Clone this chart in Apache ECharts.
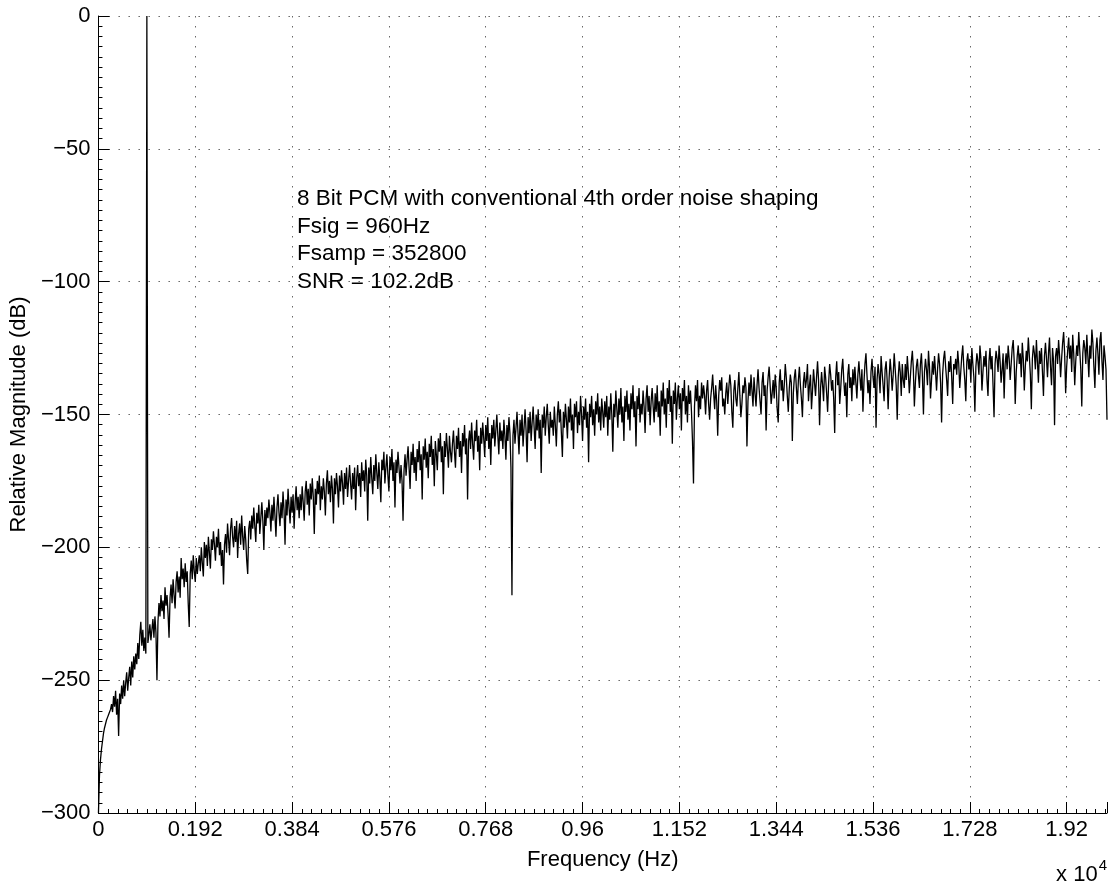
<!DOCTYPE html>
<html>
<head>
<meta charset="utf-8">
<script src="https://cdn.jsdelivr.net/npm/echarts@6/dist/echarts.min.js"></script>
<style>
html,body{margin:0;padding:0;background:#fff;}
#chart{width:1114px;height:886px;}
</style>
</head>
<body>
<div id="chart"></div>
<script>
// Spectrum bin spacing (Hz); magnitude of each bin (dB), 0 Hz .. 20000 Hz, 50 bins per kHz
const binHz = 20;
const kHz00 = [-300,-286,-280,-276,-273,-270,-268,-266.5,-265,-264,-263,-262,-261,-259,-262,-256,-260,-254,-263,-257,-271,-255,-259,-252,-257,-250,-256,-251,-247,-254,-249,-245,-252,-243,-249,-241,-246,-240,-244,-236,-242,-233,-228,-237,-231,-239,-234,-240,0,-236];
const kHz01 = [-233,-229,-235,-231,-227,-234,-226,-232,-250,-228,-221,-226,-218,-224,-220,-227,-215,-222,-218,-225,-234,-219,-214,-221,-212,-218,-223,-213,-209,-217,-211,-219,-204,-212,-208,-215,-206,-213,-209,-221,-230,-210,-205,-212,-203,-209,-213,-204,-210,-206];
const kHz02 = [-203,-209,-200,-206,-211,-198,-204,-199,-207,-196,-202,-208,-197,-201,-194,-199,-205,-196,-200,-193,-203,-198,-207,-201,-214,-199,-195,-202,-191,-197,-203,-193,-189,-196,-200,-192,-198,-190,-204,-195,-191,-199,-188,-196,-201,-192,-197,-205,-210,-193];
const kHz03 = [-190,-197,-188,-193,-185,-192,-198,-187,-191,-184,-195,-189,-183,-190,-201,-186,-192,-185,-189,-182,-187,-194,-184,-190,-181,-188,-196,-185,-180,-187,-192,-183,-189,-179,-186,-199,-182,-188,-178,-185,-191,-181,-187,-180,-193,-183,-177,-186,-181,-189];
const kHz04 = [-180,-186,-177,-183,-190,-179,-175,-184,-178,-188,-176,-182,-174,-181,-195,-178,-184,-175,-180,-173,-186,-177,-182,-174,-179,-188,-176,-171,-180,-175,-183,-173,-178,-191,-174,-180,-172,-177,-185,-173,-179,-171,-176,-184,-172,-178,-170,-181,-175,-169];
const kHz05 = [-176,-182,-172,-178,-170,-186,-174,-169,-177,-172,-181,-168,-175,-171,-179,-167,-173,-190,-170,-176,-166,-174,-180,-169,-175,-165,-172,-178,-168,-174,-183,-167,-171,-164,-176,-170,-165,-173,-179,-166,-171,-163,-175,-168,-185,-167,-172,-164,-170,-176];
const kHz06 = [-169,-175,-190,-171,-165,-173,-167,-162,-170,-178,-164,-169,-161,-172,-166,-175,-163,-168,-160,-171,-165,-182,-162,-167,-159,-170,-164,-174,-161,-166,-158,-169,-163,-177,-160,-165,-171,-159,-164,-157,-168,-162,-180,-160,-166,-157,-163,-170,-158,-164];
const kHz07 = [-168,-161,-156,-164,-170,-158,-163,-155,-166,-160,-172,-157,-162,-154,-165,-159,-182,-160,-156,-163,-153,-161,-167,-156,-160,-152,-164,-158,-171,-155,-161,-153,-159,-166,-154,-160,-151,-163,-157,-169,-154,-159,-152,-162,-156,-150,-158,-165,-153,-160];
const kHz08 = [-156,-163,-152,-158,-167,-154,-160,-151,-157,-170,-218,-158,-152,-161,-155,-149,-157,-165,-152,-158,-150,-162,-155,-148,-156,-168,-151,-157,-149,-160,-153,-147,-155,-163,-150,-156,-148,-159,-152,-172,-150,-155,-147,-158,-151,-146,-154,-161,-149,-155];
const kHz09 = [-152,-158,-147,-154,-162,-150,-145,-153,-148,-157,-166,-149,-155,-146,-152,-159,-147,-153,-144,-156,-150,-163,-146,-151,-145,-157,-149,-154,-143,-150,-160,-147,-152,-144,-155,-149,-168,-146,-151,-143,-154,-148,-158,-145,-150,-142,-153,-147,-156,-144];
const kHz10 = [-149,-155,-145,-151,-143,-158,-147,-152,-142,-150,-164,-146,-151,-141,-148,-155,-144,-150,-140,-153,-147,-160,-143,-149,-141,-152,-146,-156,-142,-148,-139,-151,-145,-162,-143,-148,-140,-153,-146,-150,-141,-147,-157,-144,-139,-149,-143,-154,-145,-140];
const kHz11 = [-147,-153,-142,-149,-139,-151,-145,-158,-141,-147,-138,-150,-144,-155,-140,-146,-137,-149,-143,-161,-141,-146,-138,-152,-144,-139,-148,-142,-156,-140,-145,-137,-150,-143,-153,-139,-146,-141,-149,-160,-176,-147,-139,-145,-137,-151,-143,-148,-138,-144];
const kHz12 = [-139,-143,-150,-141,-137,-146,-152,-144,-140,-135,-142,-148,-139,-145,-158,-143,-137,-141,-136,-147,-144,-150,-142,-138,-146,-140,-135,-139,-149,-155,-141,-137,-144,-147,-140,-134,-143,-151,-146,-139,-142,-136,-140,-162,-145,-138,-143,-135,-141,-147];
const kHz13 = [-136,-142,-147,-139,-133,-140,-145,-150,-138,-134,-143,-139,-156,-141,-136,-132,-139,-146,-142,-137,-144,-135,-140,-148,-153,-138,-133,-141,-137,-145,-139,-131,-136,-143,-149,-140,-135,-138,-160,-142,-136,-133,-140,-146,-137,-132,-139,-144,-151,-138];
const kHz14 = [-134,-140,-137,-131,-145,-139,-135,-148,-141,-133,-138,-143,-136,-130,-137,-154,-140,-134,-139,-145,-132,-136,-142,-149,-138,-131,-135,-141,-137,-144,-157,-136,-130,-139,-134,-146,-140,-133,-129,-137,-143,-138,-151,-135,-131,-140,-136,-145,-133,-139];
const kHz15 = [-132,-138,-144,-135,-130,-136,-141,-133,-149,-138,-131,-127,-135,-142,-137,-146,-134,-129,-136,-140,-132,-155,-137,-131,-135,-142,-128,-134,-139,-145,-133,-130,-137,-148,-136,-129,-134,-141,-135,-127,-133,-139,-152,-136,-130,-134,-143,-131,-137,-140];
const kHz16 = [-131,-137,-128,-134,-142,-136,-130,-126,-133,-147,-138,-132,-129,-135,-140,-131,-127,-136,-150,-134,-129,-133,-139,-126,-132,-144,-137,-130,-135,-128,-134,-141,-133,-127,-131,-138,-153,-135,-129,-126,-132,-137,-143,-130,-134,-128,-136,-146,-131,-133];
const kHz17 = [-129,-135,-126,-131,-140,-134,-128,-124,-132,-137,-145,-130,-127,-133,-129,-138,-125,-131,-136,-149,-132,-127,-130,-135,-124,-129,-141,-134,-128,-132,-126,-137,-143,-130,-125,-133,-128,-139,-151,-131,-126,-129,-134,-124,-130,-138,-133,-127,-144,-131];
const kHz18 = [-127,-133,-124,-129,-137,-131,-125,-122,-130,-146,-134,-128,-124,-131,-127,-136,-123,-129,-141,-132,-126,-130,-121,-128,-135,-148,-129,-124,-127,-133,-122,-130,-138,-126,-131,-125,-134,-143,-128,-123,-129,-136,-127,-121,-132,-139,-125,-130,-154,-128];
const kHz19 = [-125,-131,-122,-128,-136,-129,-123,-119,-127,-142,-132,-126,-121,-129,-124,-134,-120,-127,-139,-130,-124,-128,-119,-126,-133,-147,-127,-122,-125,-131,-120,-128,-136,-124,-129,-118,-123,-132,-140,-126,-121,-127,-135,-122,-119,-130,-137,-124,-128,-133,-152];
const magnitude = [].concat(kHz00,kHz01,kHz02,kHz03,kHz04,kHz05,kHz06,kHz07,kHz08,kHz09,kHz10,kHz11,kHz12,kHz13,kHz14,kHz15,kHz16,kHz17,kHz18,kHz19);

const xTickLabels = ['0','0.192','0.384','0.576','0.768','0.96','1.152','1.344','1.536','1.728','1.92'];
const yTickLabels = ['\u2212300','\u2212250','\u2212200','\u2212150','\u2212100','\u221250','0'];
const annotationLines = ['8 Bit PCM with conventional 4th order noise shaping','Fsig = 960Hz','Fsamp = 352800','SNR = 102.2dB'];

const FONT = '"Liberation Sans", Arial, Helvetica, sans-serif';
const points = magnitude.map((v, i) => [i * binHz, v]);

const chart = echarts.init(document.getElementById('chart'), null, {renderer: 'canvas'});
const gridStyle = {color: '#666', width: 1, type: [1.5, 8.5]};
chart.setOption({
  animation: false,
  backgroundColor: '#fff',
  grid: {left: 97, right: 7, top: 16, bottom: 73, containLabel: false},
  xAxis: {
    type: 'value', min: 0, max: 20000, interval: 1920,
    axisLine: {show: true, onZero: false, lineStyle: {color: '#000', width: 1}},
    axisTick: {show: true, inside: true, length: 11, lineStyle: {color: '#000'}},
    minorTick: {show: true, splitNumber: 10, length: 4, lineStyle: {color: '#000'}},
    splitLine: {show: true, showMinLine: false, showMaxLine: false, lineStyle: gridStyle},
    axisLabel: {
      fontSize: 22, fontFamily: FONT, color: '#000', margin: 6, showMaxLabel: false,
      formatter: function (v) {
        const i = Math.round(v / 1920);
        return (Math.abs(v - i * 1920) < 1e-6 && i < xTickLabels.length) ? xTickLabels[i] : '';
      }
    },
    name: 'Frequency (Hz)', nameLocation: 'middle', nameGap: 36,
    nameTextStyle: {fontSize: 22, fontFamily: FONT, color: '#000'}
  },
  yAxis: {
    type: 'value', min: -300, max: 0, interval: 50,
    axisLine: {show: true, onZero: false, lineStyle: {color: '#000', width: 1}},
    axisTick: {show: true, inside: true, length: 11, lineStyle: {color: '#000'}},
    minorTick: {show: true, splitNumber: 13, length: 4, lineStyle: {color: '#000'}},
    splitLine: {show: true, showMinLine: false, showMaxLine: true, lineStyle: gridStyle},
    axisLabel: {
      fontSize: 22, fontFamily: FONT, color: '#000', margin: 8,
      formatter: function (v) {
        const i = Math.round((v + 300) / 50);
        return yTickLabels[i] !== undefined ? yTickLabels[i] : '';
      }
    },
    name: 'Relative Magnitude (dB)', nameLocation: 'middle', nameGap: 64,
    nameTextStyle: {fontSize: 22, fontFamily: FONT, color: '#000'}
  },
  series: [{
    type: 'line', data: points, showSymbol: false, symbol: 'none',
    lineStyle: {color: '#000', width: 1.3}, sampling: null, clip: true
  }],
  graphic: [
    {
      type: 'text', left: 297, top: 185,
      style: {text: annotationLines.join('\n'), font: '22.5px ' + FONT, fill: '#000', lineHeight: 27.7}
    },
    {
      type: 'text', right: 7, top: 858,
      style: {
        text: '{b|x 10}{s|4}', fill: '#000',
        rich: {
          b: {fontSize: 22, fontFamily: FONT, verticalAlign: 'bottom', lineHeight: 28},
          s: {fontSize: 15, fontFamily: FONT, verticalAlign: 'top', lineHeight: 28, padding: [0,0,0,1]}
        }
      }
    }
  ]
});
</script>
</body>
</html>
